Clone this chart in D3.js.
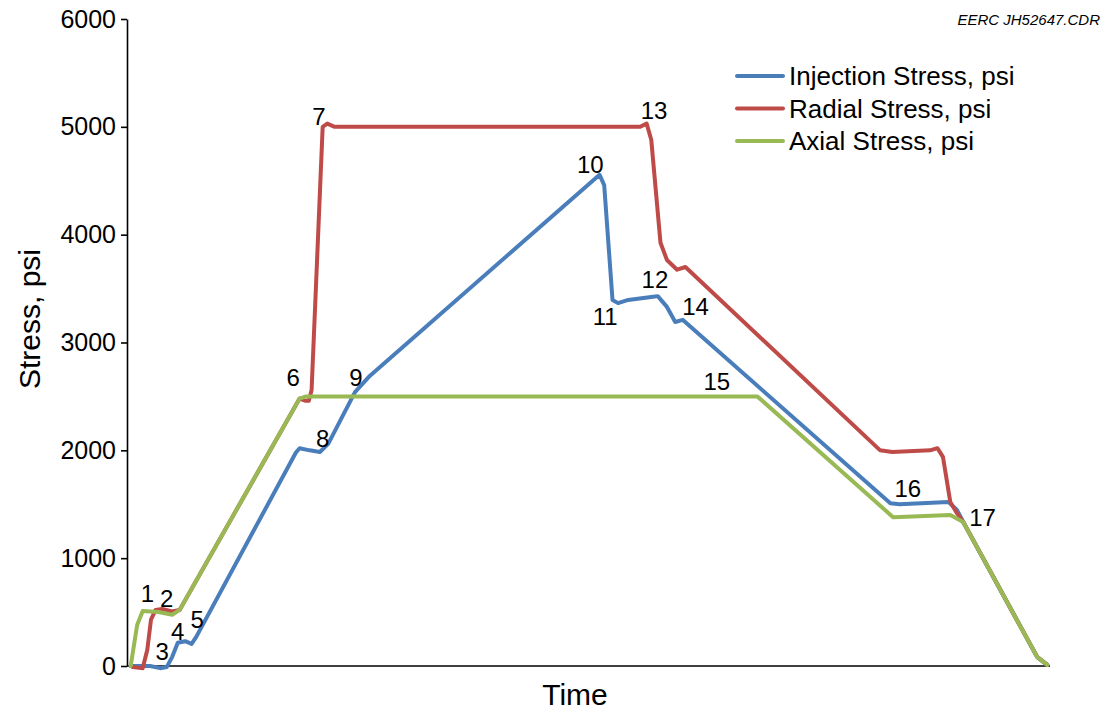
<!DOCTYPE html>
<html>
<head>
<meta charset="utf-8">
<script src="https://cdn.jsdelivr.net/npm/d3@7"></script>
<style>
  body { margin: 0; background: #fff; }
  svg { display: block; font-family: "Liberation Sans", Arial, sans-serif; }
</style>
</head>
<body>
<svg id="chart" width="1106" height="713"></svg>
<script>
// Test sequence: time (arbitrary units, 0–100) vs stress (psi)
const injectionTime   = [0.4, 2.5, 3.6, 4.3, 4.9, 5.5, 6.3, 7.0, 7.5, 18.3, 18.7, 19.8, 20.9, 21.8, 24.7, 26.3, 51.2, 51.7, 52.6, 53.2, 54.3, 57.0, 57.5, 58.5, 59.4, 60.2, 82.7, 83.7, 89.0, 89.9, 90.6, 98.6, 99.7];
const injectionStress = [0, 0, -20, -10, 85, 215, 230, 205, 270, 1980, 2020, 2000, 1985, 2060, 2540, 2690, 4555, 4460, 3395, 3365, 3395, 3425, 3430, 3330, 3190, 3210, 1510, 1500, 1520, 1450, 1335, 85, 10];

const radialTime   = [0.6, 1.7, 2.2, 2.6, 3.1, 3.8, 4.9, 5.7, 18.7, 19.3, 19.7, 20.0, 21.2, 21.7, 22.5, 55.6, 56.3, 56.8, 57.8, 58.5, 59.6, 60.5, 81.6, 82.9, 87.0, 87.8, 88.4, 89.2, 89.9, 90.6, 98.6, 99.7];
const radialStress = [-10, -20, 150, 430, 520, 530, 505, 520, 2480, 2460, 2460, 2560, 5000, 5030, 5000, 5000, 5030, 4880, 3925, 3765, 3675, 3700, 2000, 1985, 2000, 2020, 1940, 1520, 1420, 1335, 85, 10];

const axialTime   = [0.4, 1.1, 1.7, 3.4, 4.9, 5.7, 18.7, 19.4, 68.3, 83.0, 89.2, 90.6, 98.6, 99.7];
const axialStress = [0, 380, 510, 500, 475, 520, 2480, 2500, 2500, 1380, 1400, 1335, 85, 10];

// Numbered test stages
const stageLabels = ["1","2","3","4","5","6","7","8","9","10","11","12","13","14","15","16","17"];
const stageTime   = [2.2, 4.3, 3.8, 5.5, 7.6, 18.0, 20.8, 21.2, 24.8, 50.2, 51.8, 57.2, 57.1, 61.6, 63.9, 84.6, 92.7];
const stageStress = [670, 630, 130, 320, 430, 2680, 5100, 2110, 2680, 4650, 3240, 3580, 5150, 3330, 2640, 1650, 1380];

const yTicks = [0, 1000, 2000, 3000, 4000, 5000, 6000];
const seriesNames = ["Injection Stress, psi", "Radial Stress, psi", "Axial Stress, psi"];
const seriesColors = ["#4A7EBB", "#BE4B48", "#98B954"];

const svg = d3.select("#chart");
const x = d3.scaleLinear().domain([0, 100]).range([127, 1050]);
const y = d3.scaleLinear().domain([0, 6000]).range([666, 19]);

// Y axis
const yAxis = svg.append("g")
  .attr("transform", `translate(${x(0)},0)`)
  .call(d3.axisLeft(y).tickValues(yTicks).tickSize(6).tickSizeOuter(0).tickPadding(5).tickFormat(d3.format("d")));
yAxis.selectAll("path, line").attr("stroke", "#000").attr("stroke-width", 1.6);
yAxis.selectAll("text").attr("font-size", 25).attr("fill", "#000")
  .attr("font-family", "'Liberation Sans', Arial, sans-serif");

// X axis baseline (no ticks)
svg.append("line")
  .attr("x1", x(0)).attr("x2", x(100))
  .attr("y1", y(0)).attr("y2", y(0))
  .attr("stroke", "#000").attr("stroke-width", 1.6);

// Series lines
const line = d3.line()
  .x(d => x(d[0])).y(d => y(d[1]))
  .curve(d3.curveLinear);

const series = [
  d3.zip(injectionTime, injectionStress),
  d3.zip(radialTime, radialStress),
  d3.zip(axialTime, axialStress)
];

series.forEach((pts, i) => {
  svg.append("path")
    .datum(pts)
    .attr("d", line)
    .attr("fill", "none")
    .attr("stroke", seriesColors[i])
    .attr("stroke-width", 4)
    .attr("stroke-linejoin", "round")
    .attr("stroke-linecap", "round");
});

// Stage numbers
svg.append("g").selectAll("text")
  .data(stageLabels)
  .join("text")
  .attr("x", (d, i) => x(stageTime[i]))
  .attr("y", (d, i) => y(stageStress[i]))
  .attr("text-anchor", "middle")
  .attr("dominant-baseline", "central")
  .attr("font-size", 24)
  .attr("fill", "#000")
  .text(d => d);

// Legend
const legend = svg.append("g");
seriesNames.forEach((name, i) => {
  const ly = 76 + i * 32.5;
  legend.append("line")
    .attr("x1", 737).attr("x2", 783)
    .attr("y1", ly).attr("y2", ly)
    .attr("stroke", seriesColors[i]).attr("stroke-width", 4)
    .attr("stroke-linecap", "round");
  legend.append("text")
    .attr("x", 789).attr("y", ly)
    .attr("dominant-baseline", "central")
    .attr("font-size", 26)
    .attr("fill", "#000")
    .text(name);
});

// Axis titles
svg.append("text")
  .attr("transform", "translate(40,319) rotate(-90)")
  .attr("text-anchor", "middle")
  .attr("font-size", 30)
  .attr("fill", "#000")
  .text("Stress, psi");

svg.append("text")
  .attr("x", 575).attr("y", 705)
  .attr("text-anchor", "middle")
  .attr("font-size", 30)
  .attr("fill", "#000")
  .text("Time");

// Drawing reference
svg.append("text")
  .attr("x", 1100).attr("y", 25)
  .attr("text-anchor", "end")
  .attr("font-size", 15)
  .attr("font-style", "italic")
  .attr("fill", "#000")
  .text("EERC JH52647.CDR");
</script>
</body>
</html>
